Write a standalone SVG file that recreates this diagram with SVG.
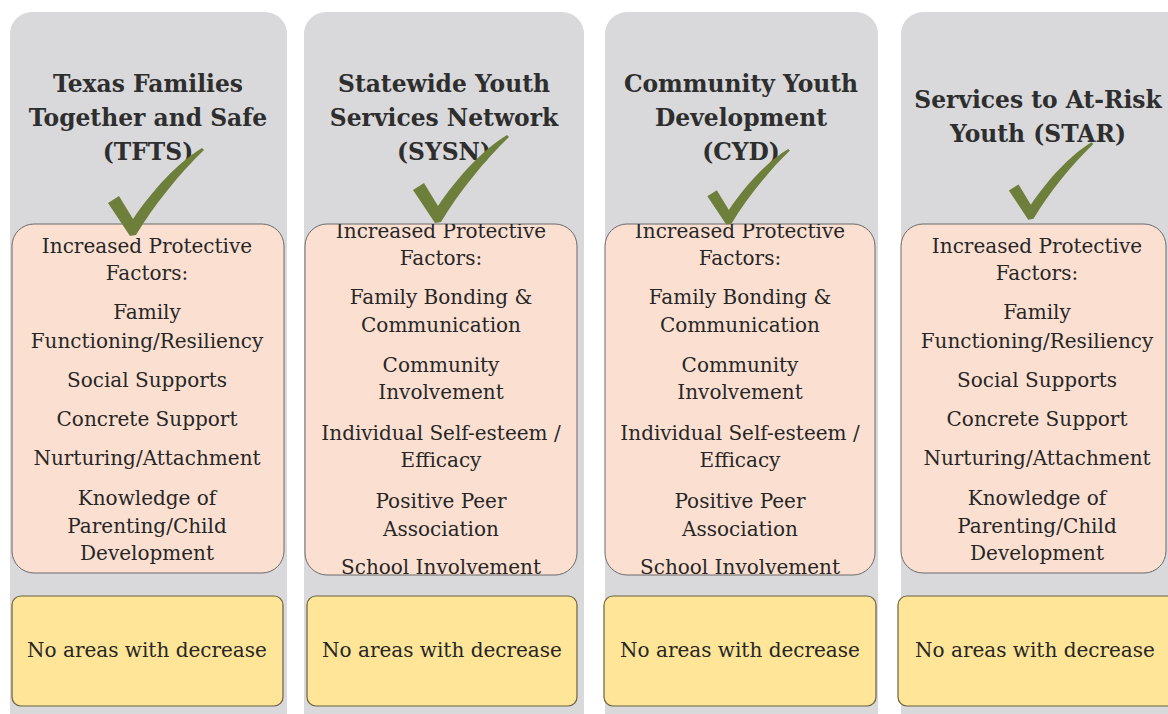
<svg xmlns="http://www.w3.org/2000/svg" width="1168" height="714" viewBox="0 0 1168 714">
  <style>
    .col { fill: #d9d9db; }
    .inc { fill: #fbe0d2; stroke: #6a6a6a; stroke-width: 1; }
    .dec { fill: #fee597; stroke: #6b6140; stroke-width: 1.2; }
    .title { font-family: "DejaVu Serif", "Liberation Serif", serif; font-weight: bold; font-size: 23.4px; fill: #2e2e2e; text-anchor: middle; }
    .body { font-family: "DejaVu Serif", "Liberation Serif", serif; font-size: 20px; fill: #262626; text-anchor: middle; }
    .check { fill: #6e7f3b; }
  </style>
  <defs>
    <!-- tick mark, tip of the V at the origin -->
    <path id="tick" d="M -24 -30 L -13 -37 L 1 -14 C 20 -42 45 -70 70 -85 L 72 -83 C 48 -60 22 -28 4 2 L -2 3 Z"/>
    <clipPath id="clip2"><rect x="305" y="224" width="272" height="351" rx="22"/></clipPath>
    <clipPath id="clip3"><rect x="605" y="224" width="270" height="351" rx="22"/></clipPath>
  </defs>
  <rect width="1168" height="714" fill="#ffffff"/>

  <!-- Column 1: TFTS -->
  <g id="tfts">
    <rect class="col" x="10" y="12" width="277" height="740" rx="22"/>
    <text class="title" x="148" y="92">Texas Families</text>
    <text class="title" x="148" y="126">Together and Safe</text>
    <text class="title" x="148" y="160">(TFTS)</text>
    <rect class="inc" x="12" y="224" width="272" height="349" rx="22"/>
    <use href="#tick" class="check" transform="translate(132,233)"/>
    <text class="body" x="147" y="253">Increased Protective</text>
    <text class="body" x="147" y="280">Factors:</text>
    <text class="body" x="147" y="319">Family</text>
    <text class="body" x="147" y="348">Functioning/Resiliency</text>
    <text class="body" x="147" y="387">Social Supports</text>
    <text class="body" x="147" y="426">Concrete Support</text>
    <text class="body" x="147" y="465">Nurturing/Attachment</text>
    <text class="body" x="147" y="505">Knowledge of</text>
    <text class="body" x="147" y="533">Parenting/Child</text>
    <text class="body" x="147" y="560">Development</text>
    <rect class="dec" x="12" y="596" width="271" height="110" rx="9"/>
    <text class="body" x="147" y="657">No areas with decrease</text>
  </g>

  <!-- Column 2: SYSN -->
  <g id="sysn">
    <rect class="col" x="304" y="12" width="280" height="740" rx="22"/>
    <text class="title" x="444" y="92">Statewide Youth</text>
    <text class="title" x="444" y="126">Services Network</text>
    <text class="title" x="444" y="160">(SYSN)</text>
    <rect class="inc" x="305" y="224" width="272" height="351" rx="22"/>
    <use href="#tick" class="check" transform="translate(437,220)"/>
    <g clip-path="url(#clip2)">
      <text class="body" x="441" y="238">Increased Protective</text>
      <text class="body" x="441" y="265">Factors:</text>
      <text class="body" x="441" y="304">Family Bonding &amp;</text>
      <text class="body" x="441" y="332">Communication</text>
      <text class="body" x="441" y="372">Community</text>
      <text class="body" x="441" y="399">Involvement</text>
      <text class="body" x="441" y="440">Individual Self-esteem /</text>
      <text class="body" x="441" y="467">Efficacy</text>
      <text class="body" x="441" y="508">Positive Peer</text>
      <text class="body" x="441" y="536">Association</text>
      <text class="body" x="441" y="574">School Involvement</text>
    </g>
    <rect class="dec" x="307" y="596" width="270" height="110" rx="9"/>
    <text class="body" x="442" y="657">No areas with decrease</text>
  </g>

  <!-- Column 3: CYD -->
  <g id="cyd">
    <rect class="col" x="605" y="12" width="273" height="740" rx="22"/>
    <text class="title" x="741" y="92">Community Youth</text>
    <text class="title" x="741" y="126">Development</text>
    <text class="title" x="741" y="160">(CYD)</text>
    <rect class="inc" x="605" y="224" width="270" height="351" rx="22"/>
    <use href="#tick" class="check" transform="translate(728,222) scale(0.86)"/>
    <g clip-path="url(#clip3)">
      <text class="body" x="740" y="238">Increased Protective</text>
      <text class="body" x="740" y="265">Factors:</text>
      <text class="body" x="740" y="304">Family Bonding &amp;</text>
      <text class="body" x="740" y="332">Communication</text>
      <text class="body" x="740" y="372">Community</text>
      <text class="body" x="740" y="399">Involvement</text>
      <text class="body" x="740" y="440">Individual Self-esteem /</text>
      <text class="body" x="740" y="467">Efficacy</text>
      <text class="body" x="740" y="508">Positive Peer</text>
      <text class="body" x="740" y="536">Association</text>
      <text class="body" x="740" y="574">School Involvement</text>
    </g>
    <rect class="dec" x="604" y="596" width="272" height="110" rx="9"/>
    <text class="body" x="740" y="657">No areas with decrease</text>
  </g>

  <!-- Column 4: STAR -->
  <g id="star">
    <rect class="col" x="901" y="12" width="290" height="740" rx="22"/>
    <text class="title" x="1038" y="108">Services to At-Risk</text>
    <text class="title" x="1038" y="142">Youth (STAR)</text>
    <rect class="inc" x="901" y="224" width="265" height="349" rx="22"/>
    <use href="#tick" class="check" transform="translate(1030,217) scale(0.88)"/>
    <text class="body" x="1037" y="253">Increased Protective</text>
    <text class="body" x="1037" y="280">Factors:</text>
    <text class="body" x="1037" y="319">Family</text>
    <text class="body" x="1037" y="348">Functioning/Resiliency</text>
    <text class="body" x="1037" y="387">Social Supports</text>
    <text class="body" x="1037" y="426">Concrete Support</text>
    <text class="body" x="1037" y="465">Nurturing/Attachment</text>
    <text class="body" x="1037" y="505">Knowledge of</text>
    <text class="body" x="1037" y="533">Parenting/Child</text>
    <text class="body" x="1037" y="560">Development</text>
    <rect class="dec" x="898" y="596" width="290" height="110" rx="9"/>
    <text class="body" x="1035" y="657">No areas with decrease</text>
  </g>

  <g id="connectors"></g>
</svg>
